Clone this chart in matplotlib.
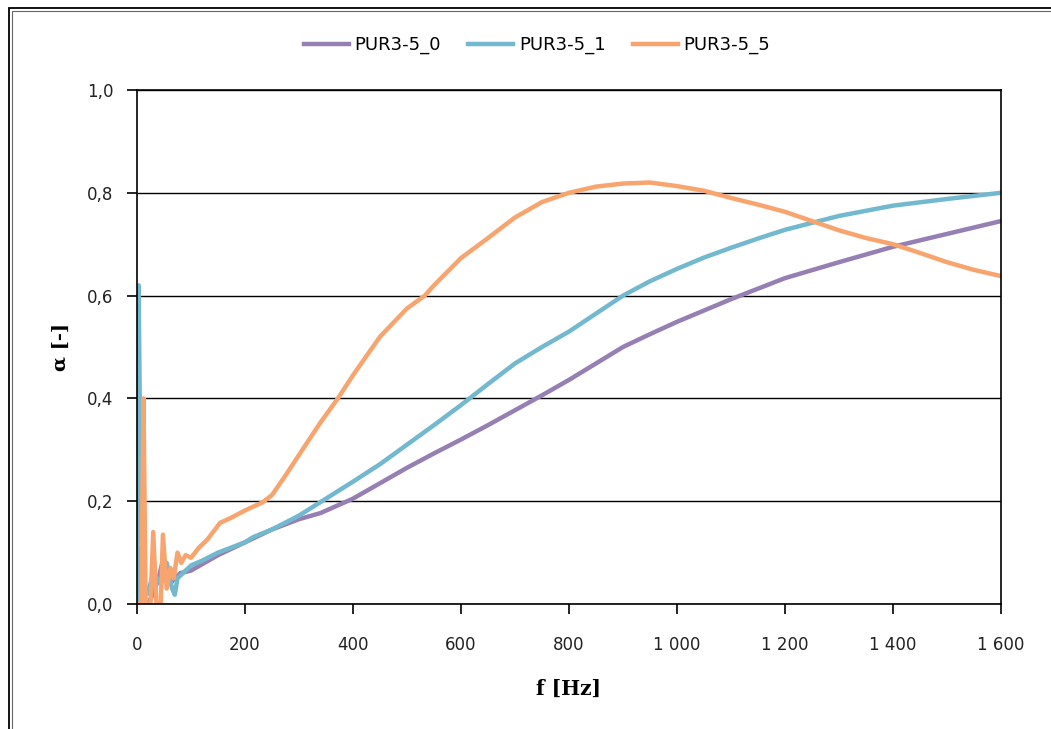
import matplotlib
matplotlib.use("Agg")
import matplotlib.pyplot as plt
from matplotlib.patches import Rectangle
from matplotlib.ticker import FuncFormatter

# data
f_pur0 = [0, 2, 4, 8, 10, 14, 20, 30, 40, 48, 55, 62, 70, 80, 100, 150, 200, 250, 300,
          340, 400, 450, 500, 550, 600, 650, 700, 750, 800, 850, 900, 950, 1000, 1100,
          1200, 1300, 1400, 1500, 1600]
a_pur0 = [0.0, 0.11, 0.0, 0.0, 0.047, 0.0, 0.0, 0.02, 0.05, 0.085, 0.06, 0.04, 0.05, 0.06,
          0.065, 0.095, 0.12, 0.145, 0.165, 0.177, 0.205, 0.235, 0.265, 0.293, 0.32, 0.348,
          0.377, 0.406, 0.436, 0.468, 0.50, 0.525, 0.549, 0.593, 0.634, 0.665, 0.695, 0.72,
          0.745]

f_pur1 = [0, 3, 6, 10, 20, 30, 45, 55, 65, 70, 75, 85, 100, 122, 150, 200, 215, 250, 300,
          350, 400, 450, 500, 550, 600, 650, 700, 750, 800, 850, 900, 950, 1000, 1050, 1100,
          1150, 1200, 1300, 1400, 1500, 1600]
a_pur1 = [0.0, 0.62, 0.3, 0.05, 0.02, 0.06, 0.04, 0.08, 0.03, 0.018, 0.05, 0.06, 0.075,
          0.085, 0.10, 0.12, 0.13, 0.145, 0.172, 0.205, 0.238, 0.272, 0.31, 0.348, 0.387,
          0.428, 0.468, 0.50, 0.53, 0.565, 0.60, 0.628, 0.652, 0.674, 0.693, 0.711, 0.728,
          0.755, 0.775, 0.788, 0.80]

f_pur5 = [0, 8, 12, 16, 25, 30, 36, 44, 48, 55, 62, 68, 75, 82, 90, 100, 115, 130, 154, 175,
          200, 233, 250, 275, 300, 339, 372, 400, 450, 500, 533, 550, 600, 650, 700, 750,
          800, 850, 900, 950, 1000, 1050, 1100, 1150, 1200, 1250, 1300, 1350, 1400, 1450,
          1500, 1550, 1600]
a_pur5 = [0.0, 0.0, 0.40, 0.0, 0.0, 0.14, 0.0, 0.0, 0.135, 0.03, 0.07, 0.05, 0.10, 0.08,
          0.095, 0.09, 0.11, 0.125, 0.158, 0.168, 0.182, 0.198, 0.212, 0.25, 0.29, 0.352,
          0.40, 0.445, 0.52, 0.575, 0.60, 0.62, 0.673, 0.712, 0.752, 0.782, 0.80, 0.812,
          0.818, 0.82, 0.813, 0.804, 0.79, 0.777, 0.763, 0.745, 0.727, 0.712, 0.70, 0.683,
          0.665, 0.65, 0.638]

labels = ["PUR3-5_0", "PUR3-5_1", "PUR3-5_5"]
colors = ["#957fb3", "#72b8ce", "#f8a46e"]

fig = plt.figure(figsize=(10.51, 7.29), dpi=100)
ax = fig.add_axes([137 / 1051, 125 / 729, 864 / 1051, 514 / 729])

ax.plot(f_pur0, a_pur0, color=colors[0], lw=3.2, label=labels[0], solid_joinstyle="round")
ax.plot(f_pur1, a_pur1, color=colors[1], lw=3.2, label=labels[1], solid_joinstyle="round")
ax.plot(f_pur5, a_pur5, color=colors[2], lw=3.2, label=labels[2], solid_joinstyle="round")

ax.set_xlim(0, 1600)
ax.set_ylim(0, 1.0)
ax.set_xticks(range(0, 1601, 200))
ax.set_yticks([0, 0.2, 0.4, 0.6, 0.8, 1.0])
ax.xaxis.set_major_formatter(FuncFormatter(lambda v, p: "{:,}".format(int(v)).replace(",", " ")))
ax.yaxis.set_major_formatter(FuncFormatter(lambda v, p: ("%.1f" % v).replace(".", ",")))
ax.grid(axis="y", color="black", lw=1)
ax.set_axisbelow(True)
for s in ax.spines.values():
    s.set_color("black")
    s.set_linewidth(1.2)
ax.tick_params(direction="out", length=7, width=1.2, colors="black", labelsize=12,
               labelcolor="#222222")
ax.tick_params(axis="x", pad=16)
ax.tick_params(axis="y", pad=10)

ax.set_xlabel("f [Hz]", family="DejaVu Serif", fontweight="bold", fontsize=14.5, labelpad=18)
ax.set_ylabel("α [-]", family="DejaVu Serif", fontweight="bold", fontsize=14, labelpad=12)

fig.legend(loc="center", bbox_to_anchor=(537 / 1051, 1 - 45 / 729), ncol=3, frameon=False,
           fontsize=13, handlelength=2.5, handletextpad=0.3, columnspacing=1.5)

# double frame around chart
fig.patches.append(Rectangle((9 / 1051, -0.1), 1.2, 1 - 8 / 729 + 0.1, transform=fig.transFigure,
                             fill=False, ec="black", lw=1.3))
fig.patches.append(Rectangle((12 / 1051, -0.1), 1.2, 1 - 11 / 729 + 0.1, transform=fig.transFigure,
                             fill=False, ec="#666666", lw=0.8))

fig.savefig("out.png", dpi=100)
